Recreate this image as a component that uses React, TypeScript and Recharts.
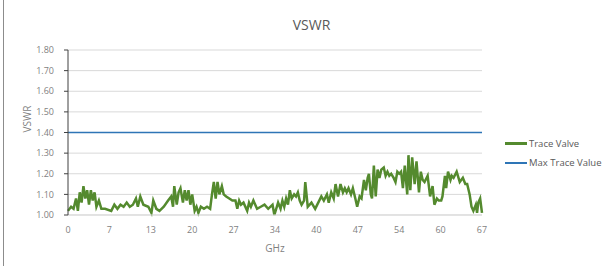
import { LineChart, Line, XAxis, YAxis, CartesianGrid, ReferenceLine } from "recharts";

const freqGHz = [
  0, 0.5, 0.9, 1.3, 1.6, 1.9, 2.2, 2.5, 2.8, 3.1, 3.4, 3.7, 4.0, 4.3, 4.6, 5.0, 5.4, 6.0, 7.0, 7.5,
  8.0, 8.5, 9.0, 9.5, 10.0, 10.5, 11.0, 11.3, 11.7, 12.2, 13.0, 13.5, 13.8, 14.3, 14.8, 15.5, 16.2, 16.7, 17.0, 17.2,
  17.6, 17.9, 18.2, 18.6, 18.9, 19.2, 19.5, 19.8, 20.1, 20.5, 20.8, 21.1, 21.5, 22.0, 22.5, 23.0, 23.3, 23.6, 23.9, 24.2,
  24.5, 24.9, 25.2, 25.6, 26.1, 26.6, 27.1, 27.4, 27.7, 28.0, 28.4, 29.0, 29.3, 29.6, 30.0, 30.6, 31.2, 31.8, 32.4, 33.1,
  33.4, 34.0, 34.4, 34.7, 35.0, 35.3, 35.6, 35.9, 36.2, 36.6, 36.9, 37.2, 37.5, 37.8, 38.2, 38.4, 38.8, 39.4, 40.0, 40.5,
  41.0, 41.4, 41.9, 42.2, 42.6, 43.0, 43.3, 43.7, 44.1, 44.5, 44.8, 45.1, 45.4, 45.8, 46.1, 46.5, 46.8, 47.2, 47.5, 47.9,
  48.2, 48.5, 48.7, 49.0, 49.2, 49.5, 49.8, 50.1, 50.4, 50.7, 51.1, 51.4, 51.7, 52.0, 52.3, 52.7, 53.0, 53.3, 53.6, 53.9,
  54.2, 54.5, 54.9, 55.1, 55.4, 55.7, 56.1, 56.4, 56.8, 57.1, 57.4, 57.7, 58.2, 58.6, 59.0, 59.3, 59.7, 60.0, 60.4, 60.6,
  61.0, 61.2, 61.5, 61.9, 62.1, 62.4, 62.9, 63.2, 63.4, 63.9, 64.3, 64.6, 65.0, 65.3, 65.6, 66.0, 66.2, 66.4, 66.7, 67.0,
];

const traceValue = [
  1.02, 1.04, 1.03, 1.08, 1.02, 1.11, 1.06, 1.14, 1.08, 1.12, 1.05, 1.12, 1.07, 1.11, 1.04, 1.07, 1.03, 1.03, 1.02, 1.05,
  1.03, 1.05, 1.04, 1.06, 1.04, 1.05, 1.08, 1.04, 1.09, 1.05, 1.04, 1.01, 1.07, 1.03, 1.02, 1.04, 1.07, 1.09, 1.04, 1.14,
  1.05, 1.11, 1.13, 1.06, 1.12, 1.07, 1.12, 1.05, 1.10, 1.02, 1.04, 1.01, 1.04, 1.03, 1.04, 1.03, 1.10, 1.16, 1.08, 1.16,
  1.10, 1.14, 1.10, 1.09, 1.08, 1.07, 1.07, 1.03, 1.07, 1.05, 1.06, 1.02, 1.06, 1.04, 1.07, 1.03, 1.04, 1.05, 1.03, 1.05,
  1.00, 1.06, 1.03, 1.07, 1.04, 1.08, 1.05, 1.12, 1.08, 1.10, 1.09, 1.11, 1.07, 1.05, 1.07, 1.16, 1.04, 1.06, 1.03, 1.06,
  1.09, 1.07, 1.10, 1.06, 1.11, 1.08, 1.15, 1.09, 1.15, 1.11, 1.13, 1.11, 1.13, 1.10, 1.13, 1.08, 1.04, 1.09, 1.08, 1.17,
  1.12, 1.18, 1.20, 1.10, 1.08, 1.24, 1.09, 1.22, 1.18, 1.22, 1.23, 1.19, 1.21, 1.19, 1.20, 1.18, 1.16, 1.21, 1.20, 1.21,
  1.13, 1.24, 1.10, 1.29, 1.12, 1.28, 1.15, 1.26, 1.11, 1.21, 1.17, 1.16, 1.19, 1.09, 1.14, 1.05, 1.08, 1.07, 1.07, 1.09,
  1.19, 1.13, 1.21, 1.17, 1.19, 1.18, 1.21, 1.18, 1.16, 1.18, 1.15, 1.15, 1.10, 1.04, 1.02, 1.05, 1.01, 1.06, 1.08, 1.01,
];

const maxTraceValue = 1.4;

const xTicks = [0, 6.7, 13.4, 20.1, 26.8, 33.5, 40.2, 46.9, 53.6, 60.3, 67];
const xTickLabels = ["0", "7", "13", "20", "27", "34", "40", "47", "54", "60", "67"];
const yTicks = [1.0, 1.1, 1.2, 1.3, 1.4, 1.5, 1.6, 1.7, 1.8];

const data = freqGHz.map((f, i) => ({ f, trace: traceValue[i] }));

const GREEN = "#548a2e";
const BLUE = "#2e75b6";
const FONT = "'Open Sans', 'Noto Sans', sans-serif";

function LegendBox() {
  const items = [
    { name: "Trace Valve", color: GREEN, w: 3 },
    { name: "Max Trace Value", color: BLUE, w: 2 },
  ];
  return (
    <div style={{ position: "absolute", left: 505, top: 134, fontFamily: FONT, fontSize: 9.5, color: "#595959" }}>
      {items.map((it) => (
        <div key={it.name} style={{ display: "flex", alignItems: "center", height: 19 }}>
          <div style={{ width: 22, height: it.w, background: it.color, marginRight: 2 }} />
          <span>{it.name}</span>
        </div>
      ))}
    </div>
  );
}

export default function App() {
  return (
    <div style={{ position: "absolute", left: 0, top: 0, width: 611, height: 266, background: "#fff", overflow: "hidden" }}>
      <div style={{ position: "absolute", left: 3, top: 0, width: 1, height: 266, background: "#8c8c8c" }} />
      <div
        style={{
          position: "absolute",
          left: 0,
          width: 611,
          top: 15,
          textAlign: "center",
          paddingLeft: 6,
          fontFamily: FONT,
          fontSize: 14,
          color: "#595959",
        }}
      >
        VSWR
      </div>
      <LineChart width={611} height={266} data={data} margin={{ top: 50, right: 129, bottom: 0, left: 0 }}>
        <CartesianGrid vertical={false} stroke="#d9d9d9" />
        <XAxis
          dataKey="f"
          type="number"
          domain={[0, 67]}
          ticks={xTicks}
          tickFormatter={(v: number) => xTickLabels[xTicks.indexOf(v)] ?? ""}
          interval={0}
          axisLine={{ stroke: "#d9d9d9" }}
          tickLine={false}
          tick={{ fontSize: 9, fill: "#7f7f7f", fontFamily: FONT }}
          tickMargin={6}
          height={51}
          label={{ value: "GHz", position: "insideBottom", offset: 14, fontSize: 10, fill: "#7f7f7f", fontFamily: FONT }}
        />
        <YAxis
          type="number"
          domain={[1, 1.8]}
          ticks={yTicks}
          tickFormatter={(v: number) => v.toFixed(2)}
          interval={0}
          width={68}
          axisLine={{ stroke: "#404040" }}
          tickLine={{ stroke: "#404040" }}
          tickSize={4}
          tickMargin={10}
          tick={{ fontSize: 9, fill: "#7f7f7f", fontFamily: FONT }}
          label={{ value: "VSWR", angle: -90, position: "insideLeft", offset: 27, fontSize: 10, fill: "#7f7f7f", fontFamily: FONT }}
        />
        <ReferenceLine y={maxTraceValue} stroke={BLUE} strokeWidth={1.5} ifOverflow="extendDomain" />
        <Line
          type="linear"
          dataKey="trace"
          stroke={GREEN}
          strokeWidth={2.5}
          dot={false}
          isAnimationActive={false}
        />
      </LineChart>
      <LegendBox />
    </div>
  );
}
